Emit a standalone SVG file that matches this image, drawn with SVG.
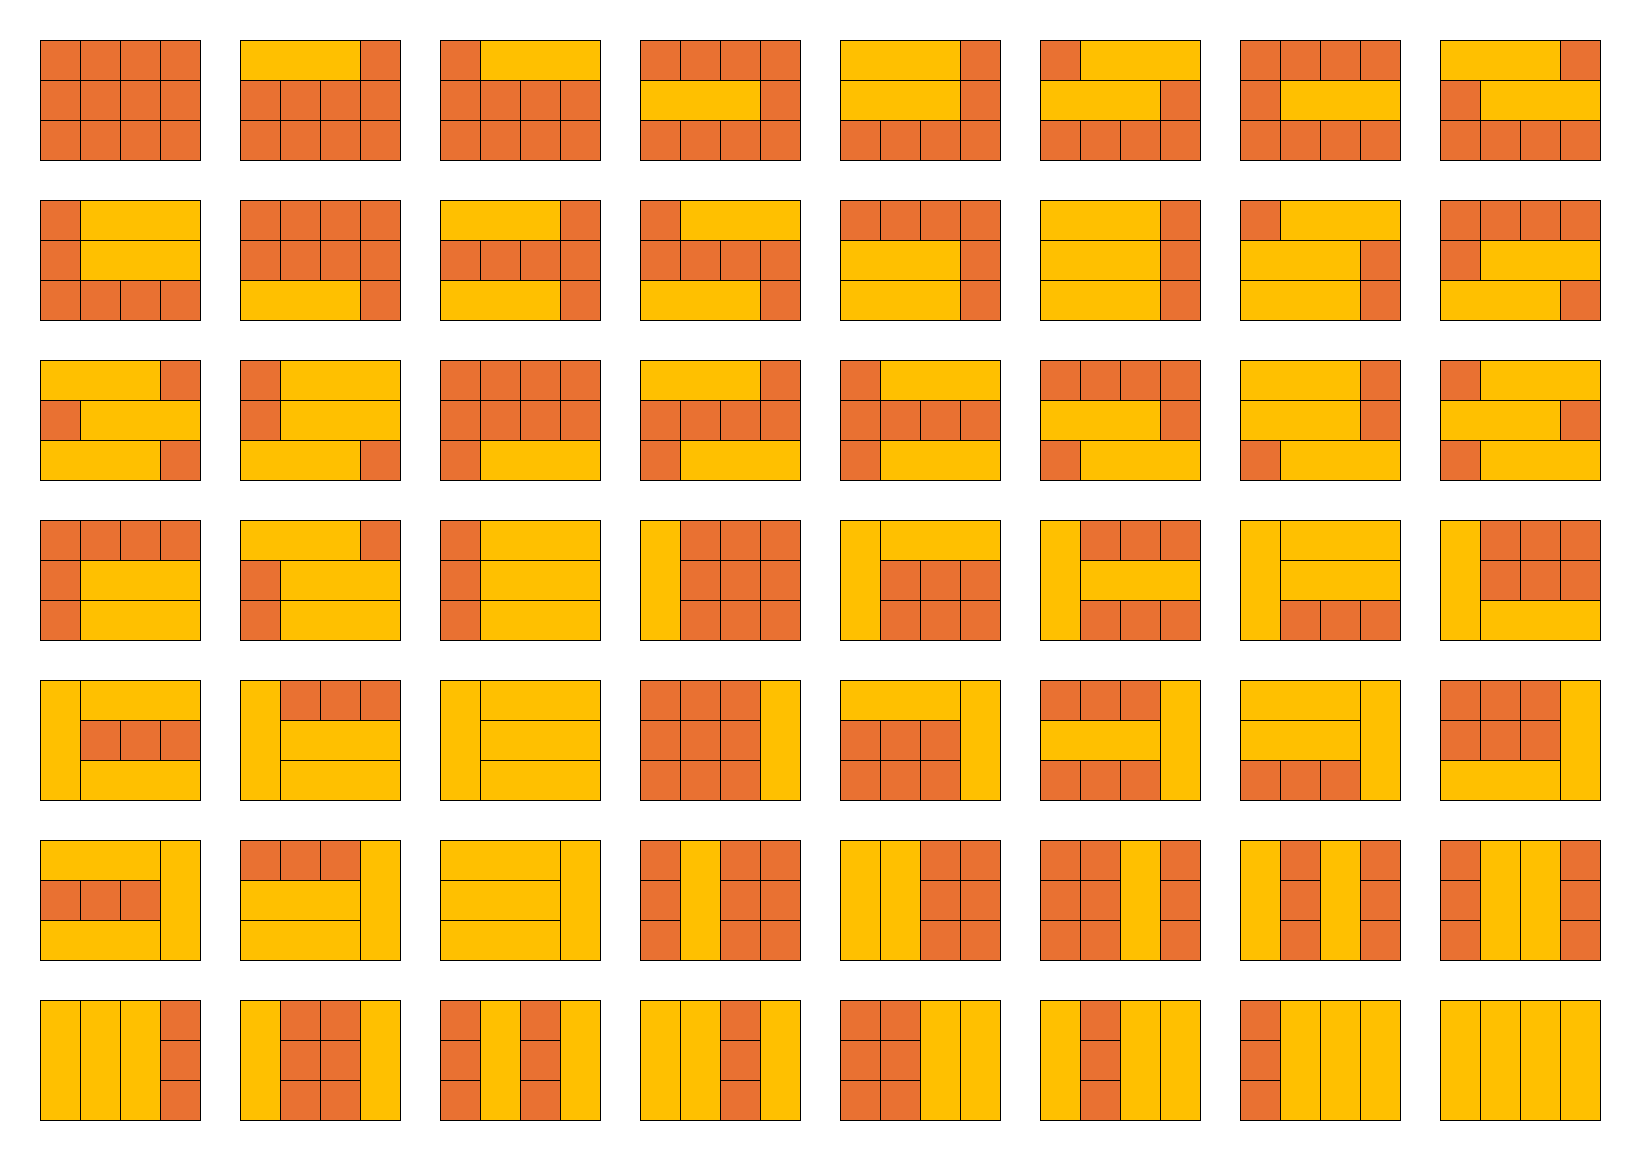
<svg xmlns="http://www.w3.org/2000/svg" xmlns:xlink="http://www.w3.org/1999/xlink" width="1641" height="1161" viewBox="0 0 1641 1161">
<style>
.o,.y{stroke:#000;stroke-width:1}
.o{fill:#E97132}
.y{fill:#FFC000}
</style>
<defs>
<g id="rA"><rect class="o" x="0" y="0" width="40" height="40"/><rect class="o" x="40" y="0" width="40" height="40"/><rect class="o" x="80" y="0" width="40" height="40"/><rect class="o" x="120" y="0" width="40" height="40"/></g>
<g id="rB"><rect class="y" x="0" y="0" width="120" height="40"/><rect class="o" x="120" y="0" width="40" height="40"/></g>
<g id="rC"><rect class="o" x="0" y="0" width="40" height="40"/><rect class="y" x="40" y="0" width="120" height="40"/></g>
<g id="a3"><rect class="o" x="0" y="0" width="40" height="40"/><rect class="o" x="40" y="0" width="40" height="40"/><rect class="o" x="80" y="0" width="40" height="40"/></g>
<rect id="h3" class="y" x="0" y="0" width="120" height="40"/>
<rect id="V" class="y" x="0" y="0" width="40" height="120"/>
<g id="Oc"><rect class="o" x="0" y="0" width="40" height="40"/><rect class="o" x="0" y="40" width="40" height="40"/><rect class="o" x="0" y="80" width="40" height="40"/></g>
</defs>
<rect x="0" y="0" width="1641" height="1161" fill="#fff"/>
<g id="tilings">
<g id="t1" transform="translate(40.5,40.5)"><use href="#rA"/><use href="#rA" y="40"/><use href="#rA" y="80"/></g>
<g id="t2" transform="translate(240.5,40.5)"><use href="#rB"/><use href="#rA" y="40"/><use href="#rA" y="80"/></g>
<g id="t3" transform="translate(440.5,40.5)"><use href="#rC"/><use href="#rA" y="40"/><use href="#rA" y="80"/></g>
<g id="t4" transform="translate(640.5,40.5)"><use href="#rA"/><use href="#rB" y="40"/><use href="#rA" y="80"/></g>
<g id="t5" transform="translate(840.5,40.5)"><use href="#rB"/><use href="#rB" y="40"/><use href="#rA" y="80"/></g>
<g id="t6" transform="translate(1040.5,40.5)"><use href="#rC"/><use href="#rB" y="40"/><use href="#rA" y="80"/></g>
<g id="t7" transform="translate(1240.5,40.5)"><use href="#rA"/><use href="#rC" y="40"/><use href="#rA" y="80"/></g>
<g id="t8" transform="translate(1440.5,40.5)"><use href="#rB"/><use href="#rC" y="40"/><use href="#rA" y="80"/></g>

<g id="t9" transform="translate(40.5,200.5)"><use href="#rC"/><use href="#rC" y="40"/><use href="#rA" y="80"/></g>
<g id="t10" transform="translate(240.5,200.5)"><use href="#rA"/><use href="#rA" y="40"/><use href="#rB" y="80"/></g>
<g id="t11" transform="translate(440.5,200.5)"><use href="#rB"/><use href="#rA" y="40"/><use href="#rB" y="80"/></g>
<g id="t12" transform="translate(640.5,200.5)"><use href="#rC"/><use href="#rA" y="40"/><use href="#rB" y="80"/></g>
<g id="t13" transform="translate(840.5,200.5)"><use href="#rA"/><use href="#rB" y="40"/><use href="#rB" y="80"/></g>
<g id="t14" transform="translate(1040.5,200.5)"><use href="#rB"/><use href="#rB" y="40"/><use href="#rB" y="80"/></g>
<g id="t15" transform="translate(1240.5,200.5)"><use href="#rC"/><use href="#rB" y="40"/><use href="#rB" y="80"/></g>
<g id="t16" transform="translate(1440.5,200.5)"><use href="#rA"/><use href="#rC" y="40"/><use href="#rB" y="80"/></g>

<g id="t17" transform="translate(40.5,360.5)"><use href="#rB"/><use href="#rC" y="40"/><use href="#rB" y="80"/></g>
<g id="t18" transform="translate(240.5,360.5)"><use href="#rC"/><use href="#rC" y="40"/><use href="#rB" y="80"/></g>
<g id="t19" transform="translate(440.5,360.5)"><use href="#rA"/><use href="#rA" y="40"/><use href="#rC" y="80"/></g>
<g id="t20" transform="translate(640.5,360.5)"><use href="#rB"/><use href="#rA" y="40"/><use href="#rC" y="80"/></g>
<g id="t21" transform="translate(840.5,360.5)"><use href="#rC"/><use href="#rA" y="40"/><use href="#rC" y="80"/></g>
<g id="t22" transform="translate(1040.5,360.5)"><use href="#rA"/><use href="#rB" y="40"/><use href="#rC" y="80"/></g>
<g id="t23" transform="translate(1240.5,360.5)"><use href="#rB"/><use href="#rB" y="40"/><use href="#rC" y="80"/></g>
<g id="t24" transform="translate(1440.5,360.5)"><use href="#rC"/><use href="#rB" y="40"/><use href="#rC" y="80"/></g>

<g id="t25" transform="translate(40.5,520.5)"><use href="#rA"/><use href="#rC" y="40"/><use href="#rC" y="80"/></g>
<g id="t26" transform="translate(240.5,520.5)"><use href="#rB"/><use href="#rC" y="40"/><use href="#rC" y="80"/></g>
<g id="t27" transform="translate(440.5,520.5)"><use href="#rC"/><use href="#rC" y="40"/><use href="#rC" y="80"/></g>
<g id="t28" transform="translate(640.5,520.5)"><use href="#V"/><use href="#a3" x="40"/><use href="#a3" x="40" y="40"/><use href="#a3" x="40" y="80"/></g>
<g id="t29" transform="translate(840.5,520.5)"><use href="#V"/><use href="#h3" x="40"/><use href="#a3" x="40" y="40"/><use href="#a3" x="40" y="80"/></g>
<g id="t30" transform="translate(1040.5,520.5)"><use href="#V"/><use href="#a3" x="40"/><use href="#h3" x="40" y="40"/><use href="#a3" x="40" y="80"/></g>
<g id="t31" transform="translate(1240.5,520.5)"><use href="#V"/><use href="#h3" x="40"/><use href="#h3" x="40" y="40"/><use href="#a3" x="40" y="80"/></g>
<g id="t32" transform="translate(1440.5,520.5)"><use href="#V"/><use href="#a3" x="40"/><use href="#a3" x="40" y="40"/><use href="#h3" x="40" y="80"/></g>

<g id="t33" transform="translate(40.5,680.5)"><use href="#V"/><use href="#h3" x="40"/><use href="#a3" x="40" y="40"/><use href="#h3" x="40" y="80"/></g>
<g id="t34" transform="translate(240.5,680.5)"><use href="#V"/><use href="#a3" x="40"/><use href="#h3" x="40" y="40"/><use href="#h3" x="40" y="80"/></g>
<g id="t35" transform="translate(440.5,680.5)"><use href="#V"/><use href="#h3" x="40"/><use href="#h3" x="40" y="40"/><use href="#h3" x="40" y="80"/></g>
<g id="t36" transform="translate(640.5,680.5)"><use href="#a3"/><use href="#a3" y="40"/><use href="#a3" y="80"/><use href="#V" x="120"/></g>
<g id="t37" transform="translate(840.5,680.5)"><use href="#h3"/><use href="#a3" y="40"/><use href="#a3" y="80"/><use href="#V" x="120"/></g>
<g id="t38" transform="translate(1040.5,680.5)"><use href="#a3"/><use href="#h3" y="40"/><use href="#a3" y="80"/><use href="#V" x="120"/></g>
<g id="t39" transform="translate(1240.5,680.5)"><use href="#h3"/><use href="#h3" y="40"/><use href="#a3" y="80"/><use href="#V" x="120"/></g>
<g id="t40" transform="translate(1440.5,680.5)"><use href="#a3"/><use href="#a3" y="40"/><use href="#h3" y="80"/><use href="#V" x="120"/></g>

<g id="t41" transform="translate(40.5,840.5)"><use href="#h3"/><use href="#a3" y="40"/><use href="#h3" y="80"/><use href="#V" x="120"/></g>
<g id="t42" transform="translate(240.5,840.5)"><use href="#a3"/><use href="#h3" y="40"/><use href="#h3" y="80"/><use href="#V" x="120"/></g>
<g id="t43" transform="translate(440.5,840.5)"><use href="#h3"/><use href="#h3" y="40"/><use href="#h3" y="80"/><use href="#V" x="120"/></g>
<g id="t44" transform="translate(640.5,840.5)"><use href="#Oc"/><use href="#V" x="40"/><use href="#Oc" x="80"/><use href="#Oc" x="120"/></g>
<g id="t45" transform="translate(840.5,840.5)"><use href="#V"/><use href="#V" x="40"/><use href="#Oc" x="80"/><use href="#Oc" x="120"/></g>
<g id="t46" transform="translate(1040.5,840.5)"><use href="#Oc"/><use href="#Oc" x="40"/><use href="#V" x="80"/><use href="#Oc" x="120"/></g>
<g id="t47" transform="translate(1240.5,840.5)"><use href="#V"/><use href="#Oc" x="40"/><use href="#V" x="80"/><use href="#Oc" x="120"/></g>
<g id="t48" transform="translate(1440.5,840.5)"><use href="#Oc"/><use href="#V" x="40"/><use href="#V" x="80"/><use href="#Oc" x="120"/></g>

<g id="t49" transform="translate(40.5,1000.5)"><use href="#V"/><use href="#V" x="40"/><use href="#V" x="80"/><use href="#Oc" x="120"/></g>
<g id="t50" transform="translate(240.5,1000.5)"><use href="#V"/><use href="#Oc" x="40"/><use href="#Oc" x="80"/><use href="#V" x="120"/></g>
<g id="t51" transform="translate(440.5,1000.5)"><use href="#Oc"/><use href="#V" x="40"/><use href="#Oc" x="80"/><use href="#V" x="120"/></g>
<g id="t52" transform="translate(640.5,1000.5)"><use href="#V"/><use href="#V" x="40"/><use href="#Oc" x="80"/><use href="#V" x="120"/></g>
<g id="t53" transform="translate(840.5,1000.5)"><use href="#Oc"/><use href="#Oc" x="40"/><use href="#V" x="80"/><use href="#V" x="120"/></g>
<g id="t54" transform="translate(1040.5,1000.5)"><use href="#V"/><use href="#Oc" x="40"/><use href="#V" x="80"/><use href="#V" x="120"/></g>
<g id="t55" transform="translate(1240.5,1000.5)"><use href="#Oc"/><use href="#V" x="40"/><use href="#V" x="80"/><use href="#V" x="120"/></g>
<g id="t56" transform="translate(1440.5,1000.5)"><use href="#V"/><use href="#V" x="40"/><use href="#V" x="80"/><use href="#V" x="120"/></g>
</g>
</svg>
